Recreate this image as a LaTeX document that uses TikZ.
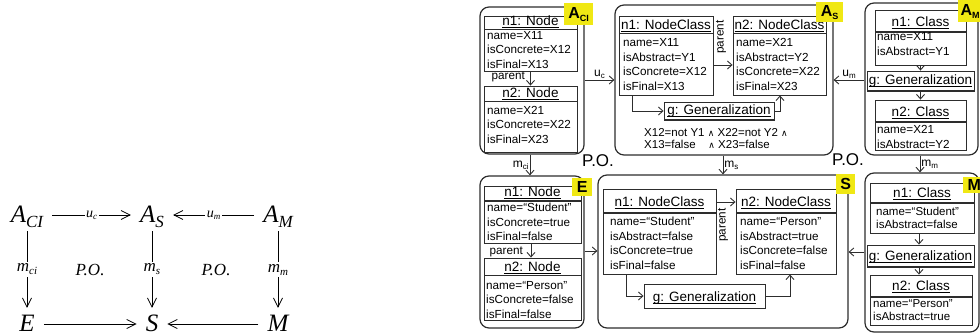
\documentclass[tikz,border=0pt]{standalone}
\usepackage{fontspec}
\setmainfont{Liberation Sans}
\newfontfamily\tms{Liberation Serif}
\newfontfamily\djv{DejaVu Sans}
\usetikzlibrary{arrows.meta,fit,calc}
\definecolor{tagyel}{RGB}{240,232,20}
\definecolor{ln}{RGB}{45,45,45}
\newcommand\ulx[1]{\setbox0\hbox{#1}\rlap{\rule[-2.4pt]{\wd0}{1.1pt}}\box0}
\newcommand\lsb[3]{\raisebox{-#1}{\fontsize{#2}{#2}\selectfont #3}}
\newcommand\andsym{{\djv\fontsize{9}{9}\selectfont ∧}}
\tikzset{
  big/.style={font=\tms\itshape\fontsize{25}{25}\selectfont, text height=18pt, text depth=2pt, inner xsep=9pt, inner ysep=6pt, anchor=base},
  llab/.style={font=\tms\itshape\fontsize{17}{17}\selectfont, fill=white, inner sep=1.5pt},
  larr/.style={-{Straight Barb[length=9pt,width=9pt]}, line width=0.8pt},
  outer/.style={draw=ln, rounded corners=9pt, line width=1.2pt, inner sep=0pt},
  objb/.style={draw=ln, line width=0.9pt, inner sep=0pt},
  sepl/.style={draw=ln, line width=1.6pt},
  hdr/.style={font=\fontsize{13.5}{15}\selectfont, anchor=base, inner sep=0pt},
  attr/.style={font=\fontsize{11.7}{14.5}\selectfont, anchor=base west, align=left, inner sep=0pt},
  attrm/.style={attr, font=\fontsize{11.5}{13}\selectfont},
  arr/.style={-{Straight Barb[length=4.5pt,width=8pt]}, line width=0.9pt, draw=ln},
  rlab/.style={font=\fontsize{12}{12}\selectfont, inner sep=1pt},
  tag/.style={fill=tagyel, inner sep=0pt, font=\bfseries\fontsize{16}{16}\selectfont},
  po/.style={font=\fontsize{17}{17}\selectfont, inner sep=0pt}
}
\begin{document}
\begin{tikzpicture}[x=1pt,y=-1pt]
\useasboundingbox (0,0) rectangle (980,336);
% ---------------- left diagram ----------------
\node[big] (LACI) at (27,223) {A\lsb{5pt}{17}{CI}};
\node[big] (LAS) at (152,223) {A\lsb{5pt}{17}{S}};
\node[big] (LAM) at (278,223) {A\lsb{5pt}{17}{M}};
\node[big] (LE) at (27,332) {E};
\node[big] (LS) at (152,332) {S};
\node[big] (LM) at (278,332) {M};
\draw[larr] (LACI) -- node[llab, font=\tms\itshape\fontsize{14}{14}\selectfont] (luc) {u\lsb{2pt}{9}{c}} (LAS);
\draw[larr] (LAM) -- node[llab, font=\tms\itshape\fontsize{14}{14}\selectfont] (lum) {u\lsb{2pt}{9}{m}} (LAS);
\draw[larr] (LE) -- (LS);
\draw[larr] (LM) -- (LS);
\draw[larr] (LACI) -- node[llab] (lmci) {m\lsb{3pt}{11}{ci}} (LE);
\draw[larr] (LAS) -- node[llab] (lms) {m\lsb{3pt}{11}{s}} (LS);
\draw[larr] (LAM) -- node[llab] (lmm) {m\lsb{3pt}{11}{m}} (LM);
\node[llab] (lpo1) at (90,270) {P.O.};
\node[llab] (lpo2) at (216,270) {P.O.};
% ---------------- A_CI ----------------
\node[outer, fit={(480,7) (584,154)}] (ACI) {};
\node[objb, fit={(484,16) (577,71)}] (aci1) {};
\draw[sepl] (484,29.5) -- (577,29.5);
\node[hdr] (aci1h) at (530.5,25.5) {\ulx{n1: Node}};
\node[attr] (aci1a) at (487,68.5) {name=X11\\isConcrete=X12\\isFinal=X13};
\node[objb, fit={(484,86) (577,152)}] (aci2) {};
\draw[sepl] (484,101.5) -- (577,101.5);
\node[hdr] (aci2h) at (530.5,97.5) {\ulx{n2: Node}};
\node[attr] (aci2a) at (487,143.5) {name=X21\\isConcrete=X22\\isFinal=X23};
\draw[arr] (aci1.south) -- (aci2.north);
\node[attr, anchor=base east] (aci1p) at (525,80) {parent};
\node[tag, minimum width=29pt, minimum height=22pt, anchor=north west] (tACI) at (564,3) {A\lsb{3pt}{9}{CI}};
% ---------------- A_S ----------------
\node[outer, fit={(615,5) (833,155)}] (AS) {};
\node[objb, fit={(619,16) (713,95)}] (as1) {};
\draw[sepl] (619,33.5) -- (713,33.5);
\node[hdr] (as1h) at (666,29.5) {\ulx{n1: NodeClass}};
\node[attr] (as1a) at (623,90.5) {name=X11\\isAbstract=Y1\\isConcrete=X12\\isFinal=X13};
\node[objb, fit={(733,16) (826,95)}] (as2) {};
\draw[sepl] (733,33.5) -- (826,33.5);
\node[hdr] (as2h) at (779.5,29.5) {\ulx{n2: NodeClass}};
\node[attr] (as2a) at (736,90.5) {name=X21\\isAbstract=Y2\\isConcrete=X22\\isFinal=X23};
\node[objb, fit={(664,102) (774,120)}] (asg) {};
\draw[sepl] (664,120) -- (774,120);
\node[hdr] (asgh) at (719,115) {\ulx{g: Generalization}};
\draw[arr] (as1.east |- 0,65) -- (as2.west |- 0,65);
\node[attr, anchor=center, rotate=90] (as1p) at (721,37) {parent};
\draw[arr] (as1.south -| 632,0) |- (asg.west);
\draw[arr] (asg.east) -| (as2.south -| 780,0);
\node[attr, font=\fontsize{11.5}{11.5}\selectfont] (ascon) at (644,148.5) {X12=not Y1 \andsym{} X22=not Y2 \andsym\\X13=false \ \ \ \andsym{} X23=false};
\node[tag, minimum width=27pt, minimum height=20pt, anchor=north west] (tAS) at (816,2) {A\lsb{3pt}{9}{S}};
% ---------------- A_M ----------------
\node[outer, fit={(865,3) (978,155)}] (AM) {};
\node[objb, fit={(875,10) (966,65)}] (am1) {};
\draw[sepl] (875,32) -- (966,32);
\node[hdr] (am1h) at (920.5,27) {\ulx{n1: Class}};
\node[attr] (am1a) at (877,55.5) {name=X11\\isAbstract=Y1};
\node[objb, fit={(867,71) (974,91)}] (amg) {};
\draw[sepl] (867,91) -- (974,91);
\node[hdr] (amgh) at (920.5,85) {\ulx{g: Generalization}};
\node[objb, fit={(875,100) (966,150)}] (am2) {};
\draw[sepl] (875,122) -- (966,122);
\node[hdr] (am2h) at (920.5,117) {\ulx{n2: Class}};
\node[attr] (am2a) at (877,148.5) {name=X21\\isAbstract=Y2};
\draw[arr] (am1.south) -- (amg.north);
\draw[arr] (amg.south) -- (am2.north);
\node[tag, minimum width=24pt, minimum height=22pt, anchor=north west] (tAM) at (958,0) {A\lsb{3pt}{9}{M}};
% ---------------- top connectors ----------------
\draw[arr] (ACI.east |- 0,80) -- node[rlab, above] (uc) {u\lsb{2pt}{8}{c}} (AS.west |- 0,80);
\draw[arr] (AM.west |- 0,80) -- node[rlab, above] (um) {u\lsb{2pt}{8}{m}} (AS.east |- 0,80);
% ---------------- E ----------------
\node[outer, fit={(480,176) (584,328)}] (E) {};
\node[objb, fit={(484,186) (581,243)}] (e1) {};
\draw[sepl] (484,201) -- (581,201);
\node[hdr] (e1h) at (532.5,197) {\ulx{n1: Node}};
\node[attr] (e1a) at (487,241) {name=“Student”\\isConcrete=true\\isFinal=false};
\node[objb, fit={(484,258) (581,320)}] (e2) {};
\draw[sepl] (484,275.5) -- (581,275.5);
\node[hdr] (e2h) at (532.5,271.5) {\ulx{n2: Node}};
\node[attr] (e2a) at (486,318.5) {name=“Person”\\isConcrete=false\\isFinal=false};
\draw[arr] (e1.south -| 531,0) -- (e2.north -| 531,0);
\node[attr, anchor=base east] (e1p) at (523,255) {parent};
\node[tag, minimum width=20pt, minimum height=18pt, anchor=north west] (tE) at (572,178) {E};
% ---------------- S ----------------
\node[outer, fit={(598,175) (848,328)}] (S) {};
\node[objb, fit={(603,189) (716,274)}] (s1) {};
\draw[sepl] (603,213) -- (716,213);
\node[hdr] (s1h) at (659.5,207) {\ulx{n1: NodeClass}};
\node[attr] (s1a) at (610,269.5) {name=“Student”\\isAbstract=false\\isConcrete=true\\isFinal=false};
\node[objb, fit={(736,189) (836,274)}] (s2) {};
\draw[sepl] (736,213) -- (836,213);
\node[hdr] (s2h) at (786,207) {\ulx{n2: NodeClass}};
\node[attr] (s2a) at (740,269.5) {name=“Person”\\isAbstract=true\\isConcrete=false\\isFinal=false};
\node[objb, fit={(644,284) (765,308)}] (sg) {};
\node[hdr] (sgh) at (704.5,301.5) {\ulx{g: Generalization}};
\draw[arr] (s1.east |- 0,202) -- (s2.west |- 0,202);
\node[attr, anchor=center, rotate=90] (s1p) at (723,225) {parent};
\draw[arr] (s1.south -| 626,0) |- (sg.west);
\draw[arr] (sg.east) -| (s2.south -| 790,0);
\node[tag, minimum width=19pt, minimum height=20pt, anchor=north west] (tS) at (836,174) {S};
% ---------------- M ----------------
\node[outer, fit={(865,173) (979,332)}] (M) {};
\node[objb, fit={(870,183) (974,233)}] (m1) {};
\draw[sepl] (870,203) -- (974,203);
\node[hdr] (m1h) at (922,198) {\ulx{n1: Class}};
\node[attrm] (m1a) at (876,229) {name=“Student”\\isAbstract=false};
\node[objb, fit={(867,245) (974,267)}] (mg) {};
\draw[sepl] (867,267) -- (974,267);
\node[hdr] (mgh) at (920.5,261) {\ulx{g: Generalization}};
\node[objb, fit={(870,275) (972,325)}] (m2) {};
\draw[sepl] (870,297) -- (972,297);
\node[hdr] (m2h) at (921,291) {\ulx{n2: Class}};
\node[attrm] (m2a) at (873,321) {name=“Person”\\isAbstract=true};
\draw[arr] (m1.south -| 919,0) -- (mg.north -| 919,0);
\draw[arr] (mg.south -| 919,0) -- (m2.north -| 919,0);
\node[tag, minimum width=22pt, minimum height=16pt, anchor=north west] (tM) at (963,177) {M};
% ---------------- bottom connectors ----------------
\draw[arr] (ACI.south -| 530,0) -- node[rlab, left] (mci) {m\lsb{2pt}{8}{ci}} (E.north -| 530,0);
\draw[arr] (AS.south -| 723,0) -- node[rlab, right] (ms) {m\lsb{2pt}{8}{s}} (S.north -| 723,0);
\draw[arr] (AM.south -| 920,0) -- node[rlab, right] (mm) {m\lsb{2pt}{8}{m}} (M.north -| 920,0);
\draw[arr] (E.east |- 0,251) -- (S.west |- 0,251);
\draw[arr] (M.west |- 0,252) -- (S.east |- 0,252);
\node[po] (po1) at (598,161) {P.O.};
\node[po] (po2) at (848,160) {P.O.};
\end{tikzpicture}
\end{document}
